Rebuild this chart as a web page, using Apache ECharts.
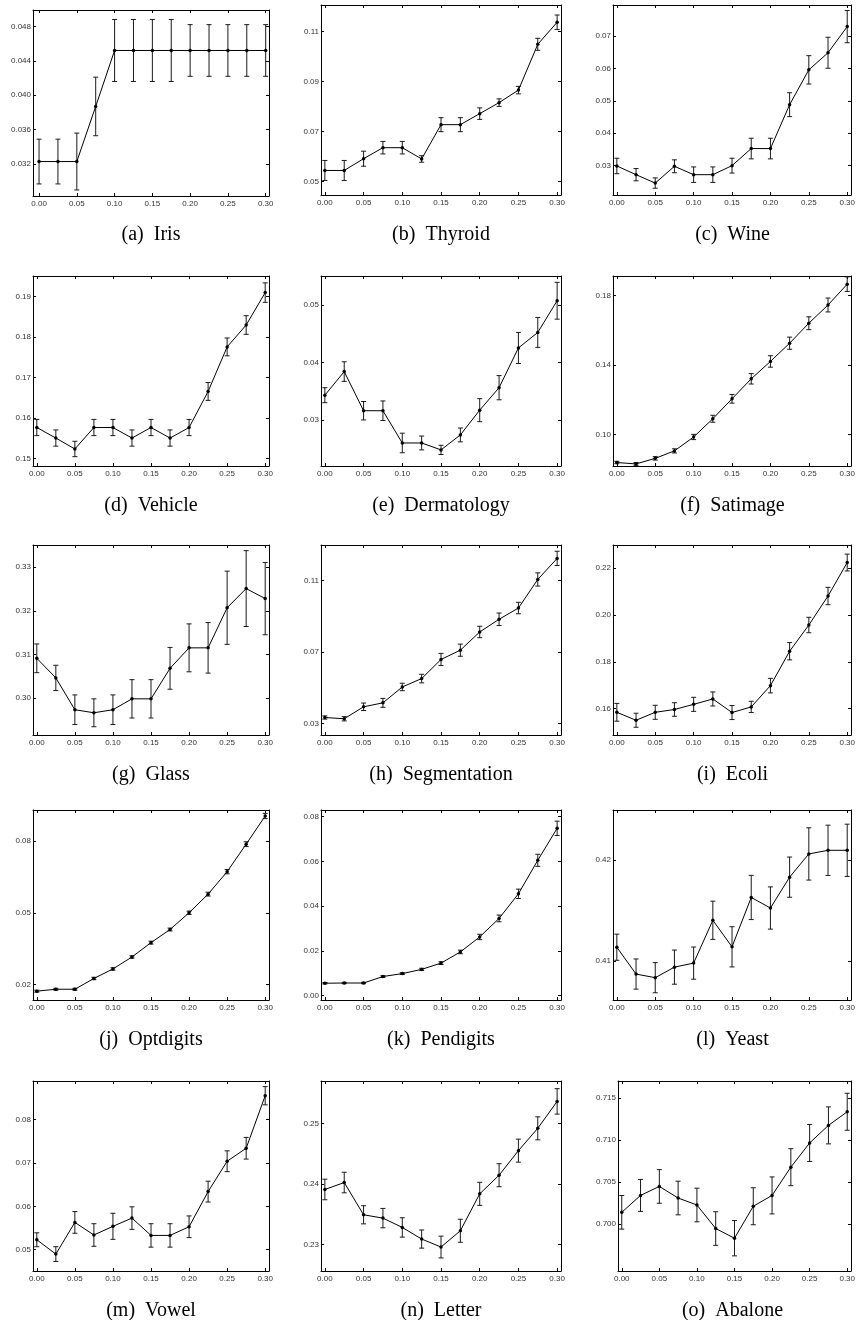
<!DOCTYPE html>
<html><head><meta charset="utf-8">
<script src="https://cdn.jsdelivr.net/npm/echarts@6/dist/echarts.min.js"></script>
<style>html,body{margin:0;padding:0;background:#fff}#c{width:858px;height:1320px}</style>
</head><body><div id="c"></div>
<script>
// ---------- data ----------
const xs = [0, 0.025, 0.05, 0.075, 0.1, 0.125, 0.15, 0.175, 0.2, 0.225, 0.25, 0.275, 0.3];
const xTicks = [0, 0.05, 0.1, 0.15, 0.2, 0.25, 0.3];
const captions = ['(a)  Iris', '(b)  Thyroid', '(c)  Wine', '(d)  Vehicle', '(e)  Dermatology', '(f)  Satimage',
  '(g)  Glass', '(h)  Segmentation', '(i)  Ecoli', '(j)  Optdigits', '(k)  Pendigits', '(l)  Yeast',
  '(m)  Vowel', '(n)  Letter', '(o)  Abalone'];

const irisMean = [0.0323,0.0323,0.0323,0.0387,0.0452,0.0452,0.0452,0.0452,0.0452,0.0452,0.0452,0.0452,0.0452];
const irisErr  = [0.0026,0.0026,0.0033,0.0034,0.0036,0.0036,0.0036,0.0036,0.0030,0.0030,0.0030,0.0030,0.0030];
const irisTicks = [0.032,0.036,0.040,0.044,0.048];

const thyroidMean = [0.0545,0.0545,0.0592,0.0636,0.0636,0.0591,0.0728,0.0728,0.0772,0.0816,0.0866,0.1049,0.1137];
const thyroidErr  = [0.0040,0.0040,0.0030,0.0025,0.0025,0.0013,0.0028,0.0028,0.0023,0.0015,0.0015,0.0024,0.0029];
const thyroidTicks = [0.05,0.07,0.09,0.11];

const wineMean = [0.0298,0.0271,0.0245,0.0297,0.0271,0.0271,0.0299,0.0352,0.0352,0.0488,0.0596,0.0649,0.0730];
const wineErr  = [0.0024,0.0019,0.0016,0.0020,0.0024,0.0024,0.0023,0.0032,0.0032,0.0037,0.0044,0.0048,0.0050];
const wineTicks = [0.03,0.04,0.05,0.06,0.07];

const vehicleMean = [0.1577,0.1551,0.1524,0.1577,0.1577,0.1551,0.1577,0.1551,0.1577,0.1666,0.1776,0.1830,0.1910];
const vehicleErr  = [0.0020,0.0020,0.0019,0.0020,0.0020,0.0020,0.0020,0.0020,0.0020,0.0022,0.0022,0.0023,0.0024];
const vehicleTicks = [0.15,0.16,0.17,0.18,0.19];

const dermMean = [0.0343,0.0384,0.0316,0.0316,0.0260,0.0260,0.0248,0.0274,0.0317,0.0356,0.0425,0.0452,0.0507];
const dermErr  = [0.0013,0.0017,0.0016,0.0017,0.0017,0.0012,0.0008,0.0012,0.0020,0.0021,0.0027,0.0026,0.0032];
const dermTicks = [0.03,0.04,0.05];

const satMean = [0.0838,0.0830,0.0862,0.0905,0.0985,0.1090,0.1205,0.1320,0.1420,0.1525,0.1640,0.1745,0.1865];
const satErr  = [0.0007,0.0008,0.0010,0.0012,0.0015,0.0020,0.0025,0.0030,0.0033,0.0035,0.0037,0.0040,0.0042];
const satTicks = [0.10,0.14,0.18];

const glassMean = [0.3091,0.3046,0.2973,0.2966,0.2973,0.2998,0.2998,0.3068,0.3115,0.3115,0.3207,0.3251,0.3228];
const glassErr  = [0.0033,0.0029,0.0034,0.0032,0.0034,0.0044,0.0044,0.0048,0.0055,0.0058,0.0084,0.0087,0.0083];
const glassTicks = [0.30,0.31,0.32,0.33];

const segMean = [0.0333,0.0326,0.0393,0.0415,0.0504,0.0551,0.0658,0.0710,0.0812,0.0883,0.0946,0.1106,0.1224];
const segErr  = [0.0009,0.0012,0.0021,0.0025,0.0021,0.0024,0.0034,0.0034,0.0032,0.0035,0.0032,0.0037,0.0040];
const segTicks = [0.03,0.07,0.11];

const ecoliMean = [0.1584,0.1550,0.1584,0.1596,0.1618,0.1641,0.1583,0.1607,0.1698,0.1845,0.1957,0.2081,0.2224];
const ecoliErr  = [0.0038,0.0030,0.0030,0.0029,0.0030,0.0030,0.0030,0.0024,0.0031,0.0037,0.0033,0.0037,0.0036];
const ecoliTicks = [0.16,0.18,0.20,0.22];

const optMean = [0.0172,0.0180,0.0180,0.0225,0.0265,0.0315,0.0375,0.0430,0.0500,0.0578,0.0672,0.0787,0.0905];
const optErr  = [0.0004,0.0004,0.0004,0.0005,0.0005,0.0005,0.0006,0.0006,0.0007,0.0008,0.0009,0.0010,0.0011];
const optTicks = [0.02,0.05,0.08];

const penMean = [0.0055,0.0056,0.0056,0.0085,0.0098,0.0117,0.0145,0.0195,0.0262,0.0345,0.0455,0.0605,0.0748];
const penErr  = [0.0003,0.0003,0.0003,0.0004,0.0004,0.0005,0.0006,0.0008,0.0012,0.0015,0.0021,0.0027,0.0032];
const penTicks = [0.00,0.02,0.04,0.06,0.08];

const yeastMean = [0.41135,0.40868,0.40832,0.40937,0.40977,0.41403,0.41139,0.41630,0.41525,0.41832,0.42063,0.42099,0.42099];
const yeastErr  = [0.0013,0.0015,0.0015,0.0017,0.0016,0.0019,0.0020,0.0022,0.0021,0.0020,0.0026,0.0025,0.0026];
const yeastTicks = [0.41,0.42];

const vowelMean = [0.0523,0.0490,0.0563,0.0534,0.0554,0.0573,0.0533,0.0533,0.0553,0.0634,0.0704,0.0734,0.0855];
const vowelErr  = [0.0016,0.0017,0.0025,0.0026,0.0030,0.0026,0.0027,0.0027,0.0025,0.0024,0.0024,0.0025,0.0021];
const vowelTicks = [0.05,0.06,0.07,0.08];

const letterMean = [0.23907,0.24022,0.23489,0.23434,0.23280,0.23088,0.22956,0.23225,0.23835,0.24143,0.24549,0.24918,0.25363];
const letterErr  = [0.0017,0.0017,0.0015,0.0016,0.0016,0.0015,0.0018,0.0019,0.0019,0.0019,0.0019,0.0019,0.0021];
const letterTicks = [0.23,0.24,0.25];

const abaloneMean = [0.70138,0.70339,0.70446,0.70308,0.70225,0.69945,0.69830,0.70210,0.70339,0.70675,0.70963,0.71172,0.71334];
const abaloneErr  = [0.0020,0.0019,0.0020,0.0020,0.0020,0.0020,0.0021,0.0022,0.0022,0.0022,0.0022,0.0022,0.0022];
const abaloneTicks = [0.700,0.705,0.710,0.715];

// ---------- panel configuration (axis bounds / decimals) ----------
const panels = [
  {mean: irisMean, err: irisErr, ticks: irisTicks, min: 0.0283, max: 0.0499, dec: 3},
  {mean: thyroidMean, err: thyroidErr, ticks: thyroidTicks, min: 0.0447, max: 0.1206, dec: 2},
  {mean: wineMean, err: wineErr, ticks: wineTicks, min: 0.0208, max: 0.0797, dec: 2},
  {mean: vehicleMean, err: vehicleErr, ticks: vehicleTicks, min: 0.1482, max: 0.1951, dec: 2},
  {mean: dermMean, err: dermErr, ticks: dermTicks, min: 0.0220, max: 0.0550, dec: 2},
  {mean: satMean, err: satErr, ticks: satTicks, min: 0.0818, max: 0.1912, dec: 2},
  {mean: glassMean, err: glassErr, ticks: glassTicks, min: 0.2915, max: 0.3351, dec: 2},
  {mean: segMean, err: segErr, ticks: segTicks, min: 0.0235, max: 0.1299, dec: 2},
  {mean: ecoliMean, err: ecoliErr, ticks: ecoliTicks, min: 0.1487, max: 0.2299, dec: 2},
  {mean: optMean, err: optErr, ticks: optTicks, min: 0.0135, max: 0.0930, dec: 2},
  {mean: penMean, err: penErr, ticks: penTicks, min: -0.0020, max: 0.0830, dec: 2},
  {mean: yeastMean, err: yeastErr, ticks: yeastTicks, min: 0.4061, max: 0.4250, dec: 2},
  {mean: vowelMean, err: vowelErr, ticks: vowelTicks, min: 0.0451, max: 0.0889, dec: 2},
  {mean: letterMean, err: letterErr, ticks: letterTicks, min: 0.2256, max: 0.2570, dec: 2},
  {mean: abaloneMean, err: abaloneErr, ticks: abaloneTicks, min: 0.6944, max: 0.7170, dec: 3}
];

// ---------- layout ----------
const colLeft = [33, 321, 613];
const colWidth = [236, 240, 239];
const rowTop = [5, 276, 545, 810, 1081];
const plotH = 190;

const grids = [], xAxes = [], yAxes = [], series = [], graphics = [];
const labelFont = {fontFamily: 'Liberation Sans', fontSize: 8, color: '#333'};
const axLine = {show: true, onZero: false, lineStyle: {color: '#000', width: 1}};

panels.forEach((p, i) => {
  const r = Math.floor(i / 3), c = i % 3;
  let left = colLeft[c], width = colWidth[c];
  let top = rowTop[r], h = plotH;
  let xMin = -0.005, xMax = 0.305;
  if (i === 14) { left = 618; width = 234; }
  if (i === 0) { top = 10; h = 186; xMin = -0.008; xMax = 0.3044; }
  grids.push({left: left, top: top, width: width, height: h, containLabel: false});
  const xBase = {type: 'value', gridIndex: i, min: xMin, max: xMax, splitLine: {show: false},
    axisLine: axLine};
  xAxes.push(Object.assign({}, xBase, {position: 'bottom',
    axisTick: {show: true, inside: true, length: 3, customValues: xTicks, lineStyle: {color: '#000'}},
    axisLabel: Object.assign({show: true, margin: 4, customValues: xTicks, formatter: v => v.toFixed(2)}, labelFont)}));
  xAxes.push(Object.assign({}, xBase, {position: 'top',
    axisTick: {show: true, inside: true, length: 3, customValues: xTicks, lineStyle: {color: '#000'}},
    axisLabel: {show: false}}));
  const yBase = {type: 'value', gridIndex: i, min: p.min, max: p.max, splitLine: {show: false}, axisLine: axLine};
  yAxes.push(Object.assign({}, yBase, {position: 'left',
    axisTick: {show: true, inside: true, length: 3, customValues: p.ticks, lineStyle: {color: '#000'}},
    axisLabel: Object.assign({show: true, margin: 2, customValues: p.ticks, formatter: v => v.toFixed(p.dec)}, labelFont)}));
  yAxes.push(Object.assign({}, yBase, {position: 'right',
    axisTick: {show: true, inside: true, length: 3, customValues: p.ticks, lineStyle: {color: '#000'}},
    axisLabel: {show: false}}));

  const lineData = xs.map((x, k) => [x, p.mean[k]]);
  const errData = xs.map((x, k) => [x, p.mean[k] - p.err[k], p.mean[k] + p.err[k]]);
  series.push({
    type: 'custom', xAxisIndex: 2 * i, yAxisIndex: 2 * i, data: errData,
    encode: {x: 0, y: [1, 2]}, silent: true, z: 2,
    renderItem: (params, api) => {
      const lo = api.coord([api.value(0), api.value(1)]);
      const hi = api.coord([api.value(0), api.value(2)]);
      const w = 2.5;
      const st = {stroke: '#1a1a1a', lineWidth: 1};
      return {type: 'group', children: [
        {type: 'line', shape: {x1: lo[0], y1: lo[1], x2: hi[0], y2: hi[1]}, style: st},
        {type: 'line', shape: {x1: lo[0] - w, y1: lo[1], x2: lo[0] + w, y2: lo[1]}, style: st},
        {type: 'line', shape: {x1: hi[0] - w, y1: hi[1], x2: hi[0] + w, y2: hi[1]}, style: st}
      ]};
    }
  });
  series.push({
    type: 'line', xAxisIndex: 2 * i, yAxisIndex: 2 * i, data: lineData, z: 3,
    symbol: 'circle', symbolSize: 3.5, showSymbol: true,
    lineStyle: {color: '#000', width: 1}, itemStyle: {color: '#000'}
  });
  graphics.push({type: 'text', x: colLeft[c] + colWidth[c] / 2, y: rowTop[r] + plotH + 40,
    style: {text: captions[i], fill: '#000', font: '20px "Liberation Serif"', align: 'center', verticalAlign: 'middle'}});
});

const chart = echarts.init(document.getElementById('c'), null, {renderer: 'canvas'});
chart.setOption({
  animation: false,
  backgroundColor: '#fff',
  grid: grids, xAxis: xAxes, yAxis: yAxes, series: series, graphic: graphics
});
</script>
</body></html>
